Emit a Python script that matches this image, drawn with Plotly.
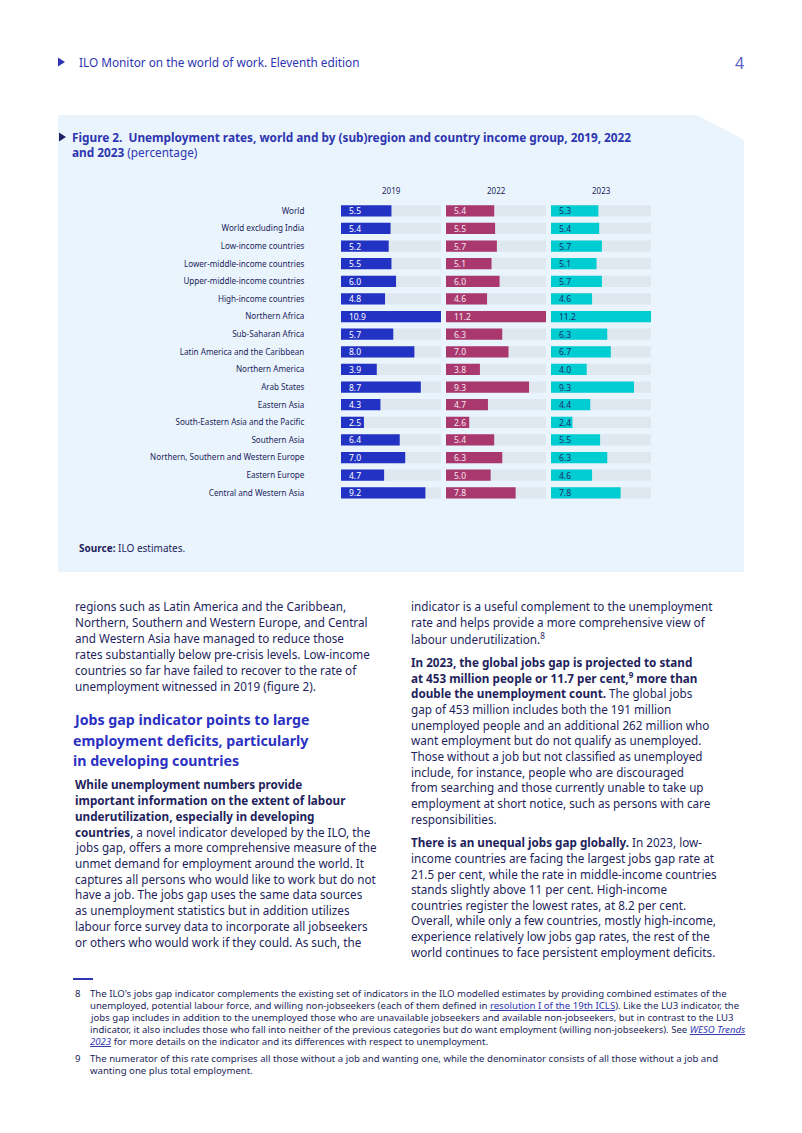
import plotly.graph_objects as go

# The page body has an 8px margin; the figure is sized to fit inside it and
# coordinates below are given in page pixels.
PAGE_W, PAGE_H = 802, 1133
OFF = 8
W, H = PAGE_W - 2 * OFF, PAGE_H - 2 * OFF


def X(px):
    return (px - OFF) / W


def Y(py):
    return 1 - (py - OFF) / H


# ---------------- data ----------------
categories = [
    "World", "World excluding India", "Low-income countries",
    "Lower-middle-income countries", "Upper-middle-income countries",
    "High-income countries", "Northern Africa", "Sub-Saharan Africa",
    "Latin America and the Caribbean", "Northern America", "Arab States",
    "Eastern Asia", "South-Eastern Asia and the Pacific", "Southern Asia",
    "Northern, Southern and Western Europe", "Eastern Europe",
    "Central and Western Asia",
]
years = ["2019", "2022", "2023"]
rate_2019 = [5.5, 5.4, 5.2, 5.5, 6.0, 4.8, 10.9, 5.7, 8.0, 3.9, 8.7, 4.3, 2.5, 6.4, 7.0, 4.7, 9.2]
rate_2022 = [5.4, 5.5, 5.7, 5.1, 6.0, 4.6, 11.2, 6.3, 7.0, 3.8, 9.3, 4.7, 2.6, 5.4, 6.3, 5.0, 7.8]
rate_2023 = [5.3, 5.4, 5.7, 5.1, 5.7, 4.6, 11.2, 6.3, 6.7, 4.0, 9.3, 4.4, 2.4, 5.5, 6.3, 4.6, 7.8]
series = [rate_2019, rate_2022, rate_2023]

bar_colors = ["#2233c4", "#a9386f", "#00cdd1"]
text_colors = ["#ffffff", "#f6e8f0", "#1d2a6e"]
track_color = "#dfe7ef"
panel_bg = "#e9f4fd"
navy = "#231f5c"
blue = "#2e35b0"

FONT = "Noto Sans"

# panel pixel positions
panel_x = [(341, 441), (446, 546), (551, 651)]
row_top, row_bot = 202.0, 501.6

fig = go.Figure()
ann = []

for i, vals in enumerate(series):
    xa = "x" if i == 0 else f"x{i + 1}"
    ya = "y"
    vmax = max(vals)
    fig.add_trace(go.Bar(
        y=categories, x=[vmax] * len(categories), orientation="h",
        marker=dict(color=track_color, line=dict(width=0)), width=0.64,
        xaxis=xa, yaxis=ya, hoverinfo="skip", showlegend=False,
    ))
    fig.add_trace(go.Bar(
        y=categories, x=vals, orientation="h",
        marker=dict(color=bar_colors[i], line=dict(width=0)), width=0.64,
        xaxis=xa, yaxis=ya, name=years[i], showlegend=False,
    ))
    for cat, v in zip(categories, vals):
        ann.append(dict(x=0, y=cat, xref=xa, yref=ya, text=f"{v:.1f}",
                        showarrow=False, xanchor="left", yanchor="middle",
                        xshift=6, font=dict(family=FONT, size=8.5, color=text_colors[i])))

layout = dict(
    width=W, height=H,
    margin=dict(l=0, r=0, t=0, b=0),
    paper_bgcolor="white", plot_bgcolor="rgba(0,0,0,0)",
    barmode="overlay", showlegend=False,
    yaxis=dict(
        domain=[Y(row_bot), Y(row_top)], categoryorder="array",
        categoryarray=categories, autorange="reversed",
        showgrid=False, zeroline=False, showline=False,
        ticks="outside", ticklen=34, tickcolor="rgba(0,0,0,0)",
        tickfont=dict(family=FONT, size=8.1, color=navy), anchor="x",
    ),
)
for i, (x0, x1) in enumerate(panel_x):
    key = "xaxis" if i == 0 else f"xaxis{i + 1}"
    layout[key] = dict(
        domain=[X(x0), X(x1)], range=[0, max(series[i])],
        showgrid=False, zeroline=False, showline=False,
        showticklabels=False, ticks="", anchor="y", fixedrange=True,
    )
fig.update_layout(**layout)

# ---------------- shapes ----------------
shapes = []
path = (f"M {X(58)},{Y(115)} L {X(697)},{Y(115)} L {X(744)},{Y(140)} "
        f"L {X(744)},{Y(572)} L {X(58)},{Y(572)} Z")
shapes.append(dict(type="path", path=path, xref="paper", yref="paper",
                   fillcolor=panel_bg, line=dict(width=0), layer="below"))
shapes.append(dict(type="path", xref="paper", yref="paper",
                   path=f"M {X(58)},{Y(57.5)} L {X(65)},{Y(62)} L {X(58)},{Y(66.5)} Z",
                   fillcolor=blue, line=dict(width=0)))
shapes.append(dict(type="path", xref="paper", yref="paper",
                   path=f"M {X(59)},{Y(132.5)} L {X(66)},{Y(137)} L {X(59)},{Y(141.5)} Z",
                   fillcolor="#1c2266", line=dict(width=0)))
shapes.append(dict(type="line", xref="paper", yref="paper",
                   x0=X(73), x1=X(93), y0=Y(979), y1=Y(979),
                   line=dict(color=blue, width=2)))
fig.update_layout(shapes=shapes)


# ---------------- text ----------------
def txt(x, y, s, size=12, color=navy, family=FONT, anchor="left", weight="normal"):
    ann.append(dict(x=X(x), y=Y(y), xref="paper", yref="paper", text=s,
                    showarrow=False, xanchor=anchor, yanchor="middle",
                    align=anchor if anchor != "center" else "center",
                    font=dict(family=family, size=size, color=color, weight=weight)))


for i, (x0, x1) in enumerate(panel_x):
    txt((x0 + x1) / 2, 191, years[i], size=8, anchor="center")

txt(77, 62, "ILO Monitor on the world of work. Eleventh edition", size=11.8, color=blue)
txt(739, 63, "4", size=16, color="#5a62c8", anchor="center")

txt(70, 137, "<b>Figure 2.  Unemployment rates, world and by (sub)region and country income group, 2019, 2022</b>",
    size=11.8, color=blue)
txt(70, 152, "<b>and 2023</b> (percentage)", size=11.8, color=blue)

txt(77, 548, "<b>Source:</b> ILO estimates.", size=10, color=navy)

BODY = 11.7
left_lines = [
    (606, "regions such as Latin America and the Caribbean,"),
    (622, "Northern, Southern and Western Europe, and Central"),
    (638, "and Western Asia have managed to reduce those"),
    (654, "rates substantially below pre-crisis levels. Low-income"),
    (670, "countries so far have failed to recover to the rate of"),
    (686, "unemployment witnessed in 2019 (figure 2)."),
    (784, "<b>While unemployment numbers provide</b>"),
    (800, "<b>important information on the extent of labour</b>"),
    (816, "<b>underutilization, especially in developing</b>"),
    (832, "<b>countries</b>, a novel indicator developed by the ILO, the"),
    (847, "jobs gap, offers a more comprehensive measure of the"),
    (863, "unmet demand for employment around the world. It"),
    (879, "captures all persons who would like to work but do not"),
    (894, "have a job. The jobs gap uses the same data sources"),
    (910, "as unemployment statistics but in addition utilizes"),
    (926, "labour force survey data to incorporate all jobseekers"),
    (942, "or others who would work if they could. As such, the"),
]
for y, s in left_lines:
    txt(73, y, s, size=BODY)

heading = [(719, "Jobs gap indicator points to large"),
           (740, "employment deficits, particularly"),
           (760, "in developing countries")]
for y, s in heading:
    txt(71, y, s, size=14.2, color="#2b31c2", weight="bold")

right_lines = [
    (606, "indicator is a useful complement to the unemployment"),
    (622, "rate and helps provide a more comprehensive view of"),
    (638, "labour underutilization.<sup>8</sup>"),
    (662, "<b>In 2023, the global jobs gap is projected to stand</b>"),
    (677, "<b>at 453 million people or 11.7 per cent,<sup>9</sup> more than</b>"),
    (693, "<b>double the unemployment count.</b> The global jobs"),
    (709, "gap of 453 million includes both the 191 million"),
    (725, "unemployed people and an additional 262 million who"),
    (740, "want employment but do not qualify as unemployed."),
    (756, "Those without a job but not classified as unemployed"),
    (772, "include, for instance, people who are discouraged"),
    (787, "from searching and those currently unable to take up"),
    (803, "employment at short notice, such as persons with care"),
    (819, "responsibilities."),
    (842, "<b>There is an unequal jobs gap globally.</b> In 2023, low-"),
    (858, "income countries are facing the largest jobs gap rate at"),
    (874, "21.5 per cent, while the rate in middle-income countries"),
    (889, "stands slightly above 11 per cent. High-income"),
    (905, "countries register the lowest rates, at 8.2 per cent."),
    (920, "Overall, while only a few countries, mostly high-income,"),
    (936, "experience relatively low jobs gap rates, the rest of the"),
    (952, "world continues to face persistent employment deficits."),
]
for y, s in right_lines:
    txt(409, y, s, size=BODY)

link = "#2e35b0"
FOOT = 9.6
foot_lines = [
    (993, "The ILO's jobs gap indicator complements the existing set of indicators in the ILO modelled estimates by providing combined estimates of the"),
    (1005, f"unemployed, potential labour force, and willing non-jobseekers (each of them defined in <span style='color:{link}'><u>resolution I of the 19th ICLS</u></span>). Like the LU3 indicator, the"),
    (1017, "jobs gap includes in addition to the unemployed those who are unavailable jobseekers and available non-jobseekers, but in contrast to the LU3"),
    (1029, f"indicator, it also includes those who fall into neither of the previous categories but do want employment (willing non-jobseekers). See <span style='color:{link}'><i><u>WESO Trends</u></i></span>"),
    (1041, f"<span style='color:{link}'><i><u>2023</u></i></span> for more details on the indicator and its differences with respect to unemployment."),
    (1058, "The numerator of this rate comprises all those without a job and wanting one, while the denominator consists of all those without a job and"),
    (1070, "wanting one plus total employment."),
]
txt(73, 993, "8", size=FOOT)
txt(73, 1058, "9", size=FOOT)
for y, s in foot_lines:
    txt(88, y, s, size=FOOT)

fig.update_layout(annotations=ann)

fig.write_html("out.html")
